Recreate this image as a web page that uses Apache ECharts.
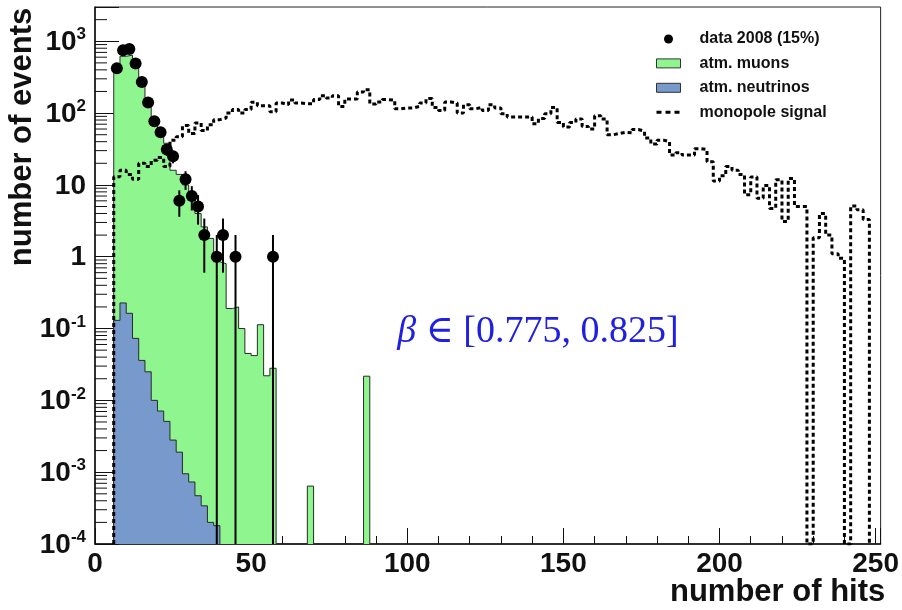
<!DOCTYPE html>
<html><head><meta charset="utf-8">
<script src="https://cdn.jsdelivr.net/npm/echarts@6/dist/echarts.min.js"></script>
<style>html,body{margin:0;padding:0;background:#fff}#c{width:902px;height:610px}</style>
</head><body><div id="c"></div>
<script>
// ---------------- data ----------------
const binWidth = 2;
const monopoleFirstEdge = 6;
const monopoleValues = [
  13, 16, 14, 12, 20, 18, 22, 24, 18, 42,          // 6-26
  47, 67, 52, 73, 57, 69, 81, 85, 100, 112,        // 26-46
  100, 112, 142, 127, 127, 104, 138, 131, 152, 138,// 46-66
  135, 135, 154, 175, 162, 175, 124, 157, 157, 197,// 66-86
  212, 134, 143, 154, 152, 115, 118, 118, 124, 138,// 86-106
  159, 120, 109, 143, 138, 100, 131, 115, 120, 109,// 106-126
  131, 118, 98, 88, 88, 88, 88, 71, 84, 98,        // 126-146
  120, 74, 64, 74, 83, 65, 60, 92, 83, 50,         // 146-166
  52, 54, 53, 59, 56, 45, 37, 42, 40, 26,          // 166-186
  28, 26, 26, 32, 31, 21, 11.3, 13.4, 18, 16,      // 186-206
  14, 7.3, 12.9, 6.5, 9.8, 4.7, 11.8, 3.1, 12.3, 5.0, // 206-226
  5.0, 0, 1.83, 4.0, 2.0, 1.1, 0.95, 0, 5.1, 4.5,  // 226-246
  3.3                                              // 246-248
];
const muonFirstEdge = 6;
const muonValues = [
  425, 618, 640, 500, 277, 154, 85, 52, 38, 16,    // 6-26
  14, 10, 7.7, 4.0, 2.6, 1.8, 0.85, 0.8, 0.19, 0.2,// 26-46
  0.1, 0.045, 0.042, 0.113, 0.022, 0.028,          // 46-58
  0, 0, 0, 0, 0, 0.00064,                          // 58-70
  0, 0, 0, 0, 0, 0, 0, 0, 0.0217                   // 70-88
];
const neutrinoFirstEdge = 6;
const neutrinoValues = [
  0.13, 0.227, 0.163, 0.073, 0.036, 0.025, 0.01, 0.0071, 0.0051,
  0.0028, 0.0019, 0.00095, 0.00073, 0.00047, 0.00034, 0.0002, 0.00018
];
const dataX   = [7, 9, 11, 13, 15, 17, 19, 21, 23, 25, 27, 29, 31, 33, 35, 39, 41, 45, 57];
const dataY   = [420, 750, 780, 490, 270, 140, 77, 54, 31, 25, 6, 12, 7, 5, 2, 1, 2, 1, 1];
const dataErr = [20, 27, 28, 22, 16, 12, 9, 7, 5.6, 5, 2.4, 3.5, 2.6, 2.2, 1.4, 1, 1.4, 1, 1];

const xTickLabels = [0, 50, 100, 150, 200, 250];
const legendNames = ['data 2008 (15%)', 'atm. muons', 'atm. neutrinos', 'monopole signal'];
const xTitle = 'number of hits';
const yTitle = 'number of events';
const annotation = ['β', ' ∈ [0.775, 0.825]'];

// ---------------- helpers ----------------
const Y_MIN = 1e-4, Y_MAX = 3000;
const X_MIN = 0, X_MAX = 251.6;
const FONT = 'Liberation Sans, Arial, Helvetica, sans-serif';

function histPoints(firstEdge, values) {
  const pts = [[firstEdge, Y_MIN]];
  values.forEach((v, i) => {
    const y = v > 0 ? v : Y_MIN;
    const lo = firstEdge + i * binWidth;
    pts.push([lo, y], [lo + binWidth, y]);
  });
  pts.push([firstEdge + values.length * binWidth, Y_MIN]);
  return pts;
}
// log minor ticks (2..9 x 10^k) for the y axis
const yMinorTickValues = [];
for (let k = -4; k <= 3; k++) for (let m = 2; m <= 9; m++) {
  const v = m * Math.pow(10, k);
  if (v < Y_MAX) yMinorTickValues.push(v);
}

const chart = echarts.init(document.getElementById('c'), null, {renderer: 'canvas'});

function yLabel(value) {
  const e = Math.log10(value);
  const r = Math.round(e);
  if (Math.abs(e - r) > 1e-6) return '';
  if (r === 0) return '{b|1}';
  if (r === 1) return '{b|10}';
  return '{b|10}{s|' + r + '}';
}

const option = {
  animation: false,
  backgroundColor: '#fff',
  grid: {left: 95, top: 7, width: 792, height: 537, show: true, borderColor: '#222', borderWidth: 1, backgroundColor: 'transparent'},
  xAxis: [{
    type: 'value', min: X_MIN, max: X_MAX, interval: 50, position: 'bottom',
    axisLine: {show: true, lineStyle: {color: '#111', width: 1.5}},
    axisTick: {show: true, inside: true, length: 16, lineStyle: {color: '#111', width: 1}},
    splitLine: {show: false},
    axisLabel: {
      margin: 6, fontFamily: FONT, fontWeight: 'bold', fontSize: 28, color: '#111',
      formatter: v => xTickLabels.indexOf(v) >= 0 ? String(v) : ''
    }
  }, {
    type: 'value', min: X_MIN, max: X_MAX, interval: 10, position: 'bottom',
    axisLine: {show: false}, splitLine: {show: false}, axisLabel: {show: false},
    axisTick: {show: true, inside: true, length: 8, lineStyle: {color: '#111', width: 1}}
  }],
  yAxis: {
    type: 'log', logBase: 10, min: Y_MIN, max: Y_MAX,
    axisLine: {show: true, lineStyle: {color: '#111', width: 1.5}},
    axisTick: {show: true, inside: true, length: 24, lineStyle: {color: '#111', width: 1}},
    splitLine: {show: false},
    axisLabel: {
      margin: 9, formatter: yLabel,
      rich: {
        b: {fontFamily: FONT, fontWeight: 'bold', fontSize: 28, color: '#111', lineHeight: 30, verticalAlign: 'bottom'},
        s: {fontFamily: FONT, fontWeight: 'bold', fontSize: 17, color: '#111', lineHeight: 30, verticalAlign: 'top', padding: [0, 0, 12, 0]}
      }
    }
  },
  legend: {
    orient: 'vertical', left: 650, top: 25, itemWidth: 24, itemHeight: 9, itemGap: 6.4,
    selectedMode: false,
    textStyle: {fontFamily: FONT, fontWeight: 'bold', fontSize: 16, color: '#111', lineHeight: 18, padding: [0, 0, 0, 14]},
    data: [
      {name: legendNames[0], icon: 'circle', itemStyle: {color: '#000', opacity: 1}},
      {name: legendNames[1], icon: 'rect', itemStyle: {color: '#8ff58f', borderColor: '#333', borderWidth: 1}},
      {name: legendNames[2], icon: 'rect', itemStyle: {color: '#7799cc', borderColor: '#333', borderWidth: 1}},
      {name: legendNames[3], itemStyle: {opacity: 0}, lineStyle: {color: '#000', width: 3, type: [5, 4]}}
    ]
  },
  graphic: [
    {type: 'text', left: 670, top: 577, style: {text: xTitle, font: 'bold 31px ' + FONT, fill: '#111'}},
    {type: 'text', x: 22, y: 137, rotation: Math.PI / 2,
      style: {text: yTitle, font: 'bold 31px ' + FONT, fill: '#111', align: 'center', verticalAlign: 'middle'}},
    {type: 'text', x: 538, y: 332,
      style: {
        text: '{i|' + annotation[0] + '}{n|' + annotation[1] + '}', align: 'center', verticalAlign: 'middle',
        rich: {
          i: {fontFamily: 'Liberation Serif, DejaVu Serif, serif', fontStyle: 'italic', fontSize: 38, fill: '#2020e0', color: '#2020e0'},
          n: {fontFamily: 'Liberation Serif, DejaVu Serif, serif', fontSize: 38, fill: '#2020e0', color: '#2020e0'}
        }
      }}
  ],
  series: [
    {
      name: legendNames[1], type: 'line', data: histPoints(muonFirstEdge, muonValues),
      symbol: 'none', color: '#8ff58f', z: 1,
      lineStyle: {color: '#2a2a2a', width: 1},
      areaStyle: {color: '#8ff58f', opacity: 1, origin: 'start'}
    },
    {
      name: legendNames[2], type: 'line', data: histPoints(neutrinoFirstEdge, neutrinoValues),
      symbol: 'none', color: '#7799cc', z: 2,
      lineStyle: {color: '#2a2a2a', width: 1},
      areaStyle: {color: '#7799cc', opacity: 1, origin: 'start'}
    },
    {
      name: legendNames[3], type: 'line', data: histPoints(monopoleFirstEdge, monopoleValues),
      symbol: 'none', showSymbol: false, color: '#000', z: 3,
      lineStyle: {color: '#000', width: 3, type: [4, 3]}
    },
    {
      type: 'custom', z: 4, silent: true,
      data: dataX.map((x, i) => [x, Math.max(dataY[i] - dataErr[i], Y_MIN), dataY[i] + dataErr[i]]),
      encode: {x: 0, y: [1, 2]},
      renderItem: (params, api) => {
        const p1 = api.coord([api.value(0), api.value(1)]);
        const p2 = api.coord([api.value(0), api.value(2)]);
        return {type: 'line', shape: {x1: p1[0], y1: p1[1], x2: p2[0], y2: p2[1]}, style: {stroke: '#000', lineWidth: 2}};
      }
    },
    {
      name: legendNames[0], type: 'scatter', z: 5, symbol: 'circle', symbolSize: 12,
      itemStyle: {color: '#000', opacity: 1},
      data: dataX.map((x, i) => [x, dataY[i]])
    },
    {
      type: 'custom', z: 6, silent: true,
      data: yMinorTickValues.map(v => [X_MIN, v]),
      encode: {x: 0, y: 1},
      renderItem: (params, api) => {
        const p = api.coord([api.value(0), api.value(1)]);
        return {type: 'line', shape: {x1: p[0], y1: p[1], x2: p[0] + 12, y2: p[1]}, style: {stroke: '#111', lineWidth: 1}};
      }
    }
  ]
};
chart.setOption(option);
</script>
</body></html>
